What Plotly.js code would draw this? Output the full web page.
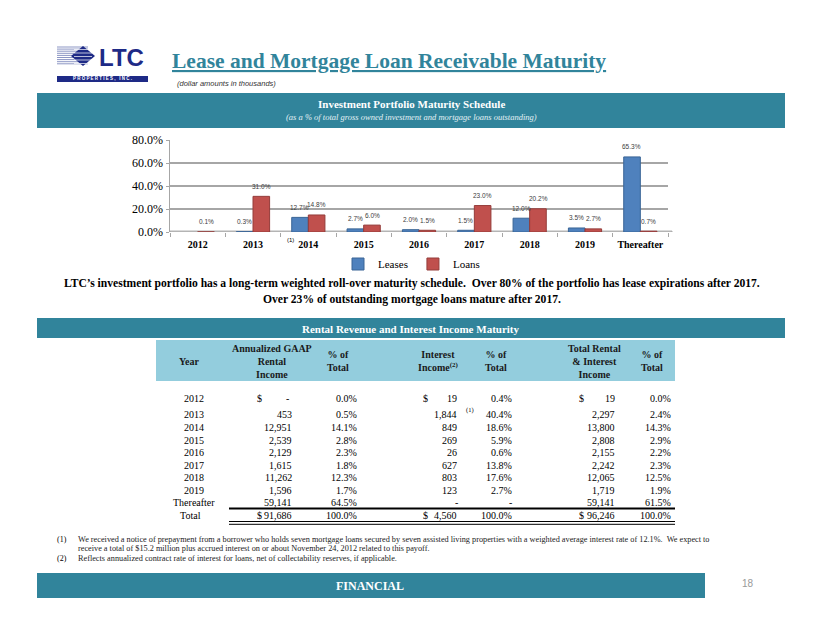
<!DOCTYPE html>
<html><head><meta charset="utf-8">
<script src="https://cdn.plot.ly/plotly-3.0.1.min.js"></script>
<style>html,body{margin:0;padding:0;background:#fff}#chart{width:822px;height:635px}</style>
</head><body><div id="chart"></div>
<script>
// ---- chart data ----
const categories = ['2012','2013','2014','2015','2016','2017','2018','2019','Thereafter'];
const leases = [null, 0.3, 12.7, 2.7, 2.0, 1.5, 12.0, 3.5, 65.3];
const loans  = [0.1, 31.0, 14.8, 6.0, 1.5, 23.0, 20.2, 2.7, 0.7];
const yTicks = [0, 20, 40, 60, 80];

// ---- table data ----
const tableYears   = ['2012','2013','2014','2015','2016','2017','2018','2019','Thereafter'];
const rentalIncome = [null, 453, 12951, 2539, 2129, 1615, 11262, 1596, 59141];
const rentalPct    = [0.0, 0.5, 14.1, 2.8, 2.3, 1.8, 12.3, 1.7, 64.5];
const interestInc  = [19, 1844, 849, 269, 26, 627, 803, 123, null];
const interestPct  = [0.4, 40.4, 18.6, 5.9, 0.6, 13.8, 17.6, 2.7, null];
const totalInc     = [19, 2297, 13800, 2808, 2155, 2242, 12065, 1719, 59141];
const totalPct     = [0.0, 2.4, 14.3, 2.9, 2.2, 2.3, 12.5, 1.9, 61.5];
const totalsRow    = [91686, 100.0, 4560, 100.0, 96246, 100.0];

const W = 822, H = 635;
const SERIF = 'Liberation Serif, Times New Roman, serif';
const SANS = 'Liberation Sans, Arial, sans-serif';
const TEAL = '#31849B';
const px = x => x / W, py = y => 1 - y / H;
function ann(x, y, text, size, o) {
  o = o || {};
  return {xref:'paper', yref:'paper', x:px(x), y:py(y), text:text, showarrow:false,
    xanchor:o.xa || 'center', yanchor:o.ya || 'middle', align:o.align || 'center',
    font:{family:o.family || SERIF, size:size, color:o.color || '#000'}};
}
function rect(x0, y0, x1, y1, fill, line) {
  return {type:'rect', xref:'paper', yref:'paper', x0:px(x0), x1:px(x1), y0:py(y1), y1:py(y0),
    fillcolor:fill, line:line || {width:0}, layer:'below'};
}
function hline(x0, x1, y, w, c) {
  return {type:'line', xref:'paper', yref:'paper', x0:px(x0), x1:px(x1), y0:py(y), y1:py(y),
    line:{color:c || '#000', width:w}};
}
const fmt = v => v.toLocaleString('en-US');
const pct = v => v.toFixed(1) + '%';

const shapes = [], annotations = [];

// ---- logo ----
for (let i = 0; i < 9; i++) shapes.push(hline(57, 88, 47 + i * 2.1, 1, '#8C96C4'));
shapes.push({type:'path', xref:'paper', yref:'paper',
  path:`M ${px(71)},${py(56)} L ${px(83)},${py(46)} L ${px(95)},${py(56)} L ${px(83)},${py(66)} Z`,
  fillcolor:'#1E2A86', line:{width:0}});
for (let i = 0; i < 5; i++) shapes.push(hline(74, 92, 49.5 + i * 3.5, 0.7, '#ffffff'));
annotations.push(ann(97, 57, '<b>LTC</b>', 24, {xa:'left', family:'Liberation Sans Narrow, Arial Narrow, sans-serif', color:'#1E2A86'}));
shapes.push(rect(57, 76, 148, 82, '#1E2A86'));
annotations.push(ann(102, 79, '<b>P R O P E R T I E S ,   I N C .</b>', 4.5, {family:SANS, color:'#fff'}));

// ---- title ----
annotations.push(ann(170, 61, '<b><u>Lease and Mortgage Loan Receivable Maturity</u></b>', 21.5, {xa:'left', color:TEAL}));
annotations.push(ann(175, 84, '<i>(dollar amounts in thousands)</i>', 7.5, {xa:'left', family:SANS, color:'#333'}));

// ---- band 1 ----
shapes.push(rect(37, 93, 785, 128, TEAL));
annotations.push(ann(411, 104, '<b>Investment Portfolio Maturity Schedule</b>', 11, {color:'#fff'}));
annotations.push(ann(411, 117, '<i>(as a % of total gross owned investment and mortgage loans outstanding)</i>', 8.5, {color:'#E3F1F5'}));

// ---- chart floor ----
shapes.push({type:'rect', xref:'paper', yref:'y', x0:px(170), x1:px(672), y0:-1.4, y1:0.8,
  fillcolor:'#C8C8C8', line:{color:'#A6A6A6', width:1}, layer:'below'});

// bar labels (x given as category index)
categories.forEach((c, i) => {
  if (leases[i] !== null) annotations.push({xref:'x', yref:'y', x:i, y:leases[i], xshift:-8.5, yshift:10,
    text:pct(leases[i]), showarrow:false, font:{family:SANS, size:6.5, color:'#404040'}});
  if (loans[i] !== null) annotations.push({xref:'x', yref:'y', x:i, y:loans[i], xshift:8.5, yshift:10,
    text:pct(loans[i]), showarrow:false, font:{family:SANS, size:6.5, color:'#404040'}});
});
annotations.push(ann(290, 240, '(1)', 6, {family:SANS}));

// ---- summary text ----
annotations.push(ann(412, 283, "<b>LTC’s investment portfolio has a long-term weighted roll-over maturity schedule.  Over 80% of the portfolio has lease expirations after 2017.</b>", 11.6));
annotations.push(ann(412, 299, "<b>Over 23% of outstanding mortgage loans mature after 2017.</b>", 11.6));

// ---- band 2 ----
shapes.push(rect(37, 318, 785, 338, TEAL));
annotations.push(ann(411, 328.5, '<b>Rental Revenue and Interest Income Maturity</b>', 11, {color:'#fff'}));

// ---- table header ----
shapes.push(rect(156, 340, 675, 381, '#93CDDD'));
const hdr = [[189,'Year'],[272,'Annualized GAAP<br>Rental<br>Income'],[338,'% of<br>Total'],
  [438,'Interest<br>Income<sup>(2)</sup>'],[496,'% of<br>Total'],[594,'Total Rental<br>& Interest<br>Income'],[652,'% of<br>Total']];
hdr.forEach(h => annotations.push(ann(h[0], 361, '<b>' + h[1] + '</b>', 10, {color:'#1a1a1a'})));

// ---- table body ----
const rowY = [398, 414, 427, 440, 452.7, 465.3, 477.7, 490.3, 503];
const colR = [294, 359, 459, 514, 617, 673];
const dollarX = [255, 421, 577];
tableYears.forEach((yr, i) => {
  const y = rowY[i];
  annotations.push(ann(194, y, yr, 10));
  const vals = [
    rentalIncome[i] === null ? '-' : fmt(rentalIncome[i]),
    rentalPct[i] === null ? '-' : pct(rentalPct[i]),
    interestInc[i] === null ? '-' : fmt(interestInc[i]),
    interestPct[i] === null ? '-' : pct(interestPct[i]),
    totalInc[i] === null ? '-' : fmt(totalInc[i]),
    totalPct[i] === null ? '-' : pct(totalPct[i])
  ];
  vals.forEach((v, k) => {
    if (v === '-') {
      const dashX = [287, 353, 456, 510, 612, 668][k];
      annotations.push(ann(dashX, y, '-', 10));
    } else annotations.push(ann(colR[k], y, v, 10, {xa:'right'}));
  });
  if (i === 0) dollarX.forEach(x => annotations.push(ann(x, y, '$', 10, {xa:'left'})));
});
annotations.push(ann(470, 410, '(1)', 6.5, {xa:'center'}));
// totals row
const totY = 515.7;
annotations.push(ann(190, totY, 'Total', 10));
totalsRow.forEach((v, k) => {
  const s = (k % 2 === 0) ? fmt(v) : pct(v);
  annotations.push(ann(colR[k], totY, s, 10, {xa:'right'}));
});
dollarX.forEach(x => annotations.push(ann(x, totY, '$', 10, {xa:'left'})));
shapes.push(hline(229, 675, 508.6, 2));
shapes.push(hline(229, 675, 521.5, 1));
shapes.push(hline(229, 675, 524.3, 1));

// ---- footnotes ----
annotations.push(ann(62, 539, '(1)', 8, {}));
annotations.push(ann(76, 539, 'We received a notice of prepayment from a borrower who holds seven mortgage loans secured by seven assisted living properties with a weighted average interest rate of 12.1%.  We expect to', 8.25, {xa:'left', color:'#222'}));
annotations.push(ann(76, 548, 'receive a total of $15.2 million plus accrued interest on or about November 24, 2012 related to this payoff.', 8.25, {xa:'left', color:'#222'}));
annotations.push(ann(62, 558, '(2)', 8, {}));
annotations.push(ann(76, 558, 'Reflects annualized contract rate of interest for loans, net of collectability reserves, if applicable.', 8.25, {xa:'left', color:'#222'}));

// ---- bottom band ----
shapes.push(rect(37, 573, 705, 598, TEAL));
annotations.push(ann(370, 585.5, '<b>FINANCIAL</b>', 12, {color:'#fff'}));
annotations.push(ann(748, 583, '18', 10, {family:SANS, color:'#999'}));

const traces = [
  {type:'bar', name:'Leases', x:categories, y:leases, marker:{color:'#4F81BD', line:{color:'#3A6596', width:1}}},
  {type:'bar', name:'Loans', x:categories, y:loans, marker:{color:'#C0504D', line:{color:'#943C3A', width:1}}}
];

const layout = {
  width:W, height:H, margin:{l:0, r:0, t:0, b:0}, paper_bgcolor:'#fff', plot_bgcolor:'rgba(0,0,0,0)',
  barmode:'group', bargap:0.4, bargroupgap:0,
  xaxis:{domain:[px(170), px(668)], anchor:'y', type:'category', categoryarray:categories,
    range:[-0.5, categories.length - 0.5], autorange:false, tickson:'boundaries', ticks:'outside', ticklen:4,
    ticklabelstandoff:5, tickangle:0, tickcolor:'#A6A6A6', showline:false, showgrid:false, zeroline:false,
    tickfont:{family:SERIF, size:10, color:'#000', weight:'bold'}},
  yaxis:{domain:[py(232), py(140)], range:[0, 80], autorange:false, tickvals:yTicks,
    ticktext:yTicks.map(v => v.toFixed(1) + '%'),
    showline:true, linecolor:'#A6A6A6', linewidth:1.5, ticks:'outside', ticklen:3, tickcolor:'#A6A6A6',
    gridcolor:'#A6A6A6', gridwidth:1.5, zeroline:false,
    tickfont:{family:SERIF, size:12, color:'#000'}},
  showlegend:true,
  legend:{orientation:'h', x:px(338), y:py(264), xanchor:'left', yanchor:'middle',
    font:{family:SERIF, size:11, color:'#000'}, bgcolor:'rgba(0,0,0,0)'},
  shapes:shapes, annotations:annotations
};
Plotly.newPlot('chart', traces, layout, {displayModeBar:false, staticPlot:true});
</script></body></html>
